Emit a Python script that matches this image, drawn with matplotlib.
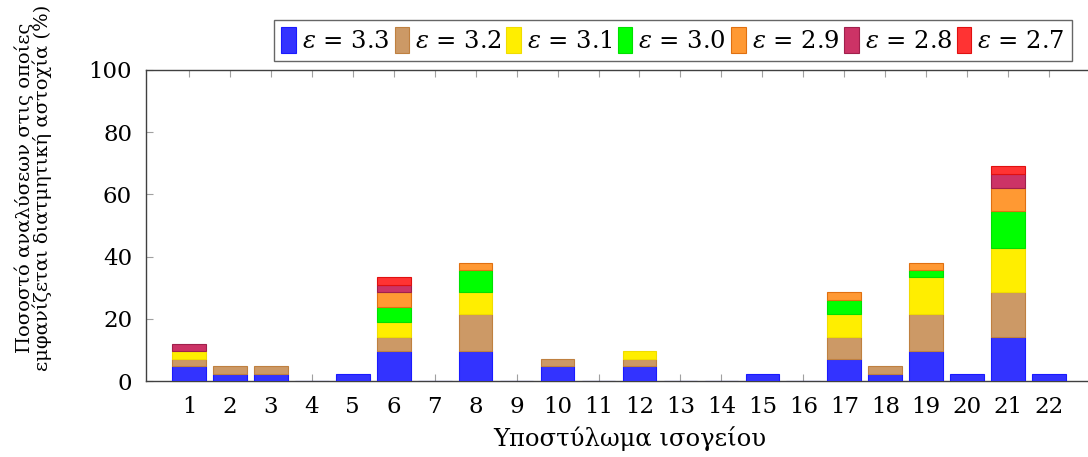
import numpy as np
import matplotlib
matplotlib.use("Agg")
import matplotlib.pyplot as plt

plt.rcParams["font.family"] = ["DejaVu Serif"]
plt.rcParams["mathtext.fontset"] = "dejavuserif"

# Column labels (ground-floor columns)
columns = [str(i) for i in range(1, 23)]

# Share of analyses (%) with shear failure, per permittivity value
eps_labels = [r"$\varepsilon$ = 3.3", r"$\varepsilon$ = 3.2", r"$\varepsilon$ = 3.1",
              r"$\varepsilon$ = 3.0", r"$\varepsilon$ = 2.9", r"$\varepsilon$ = 2.8",
              r"$\varepsilon$ = 2.7"]

u = 100.0 / 42.0  # one analysis out of 42
eps_33 = np.array([2, 1, 1, 0, 1, 4, 0, 4, 0, 2, 0, 2, 0, 0, 1, 0, 3, 1, 4, 1, 6, 1]) * u
eps_32 = np.array([1, 1, 1, 0, 0, 2, 0, 5, 0, 1, 0, 1, 0, 0, 0, 0, 3, 1, 5, 0, 6, 0]) * u
eps_31 = np.array([1, 0, 0, 0, 0, 2, 0, 3, 0, 0, 0, 1, 0, 0, 0, 0, 3, 0, 5, 0, 6, 0]) * u
eps_30 = np.array([0, 0, 0, 0, 0, 2, 0, 3, 0, 0, 0, 0, 0, 0, 0, 0, 2, 0, 1, 0, 5, 0]) * u
eps_29 = np.array([0, 0, 0, 0, 0, 2, 0, 1, 0, 0, 0, 0, 0, 0, 0, 0, 1, 0, 1, 0, 3, 0]) * u
eps_28 = np.array([1, 0, 0, 0, 0, 1, 0, 0, 0, 0, 0, 0, 0, 0, 0, 0, 0, 0, 0, 0, 2, 0]) * u
eps_27 = np.array([0, 0, 0, 0, 0, 1, 0, 0, 0, 0, 0, 0, 0, 0, 0, 0, 0, 0, 0, 0, 1, 0]) * u

series = [eps_33, eps_32, eps_31, eps_30, eps_29, eps_28, eps_27]

fills = ["#3333ff", "#cc9966", "#ffee00", "#00ff00", "#ff9933", "#cc3366", "#ff3333"]
edges = ["#1a1aff", "#bf8040", "#f0dc00", "#00e000", "#e07010", "#a0204c", "#e01010"]

fig = plt.figure(figsize=(10.88, 4.57), dpi=100)
ax = fig.add_axes([146 / 1088, 76 / 457, 946 / 1088, 311 / 457])

x = np.arange(len(columns))
bottom = np.zeros(len(columns))
handles = []
for k, (vals, fc, ec, lab) in enumerate(zip(series, fills, edges, eps_labels)):
    # the first series is drawn everywhere (zero bars show as a flat line);
    # the rest only where they contribute
    keep = np.ones(len(vals), bool) if k == 0 else vals > 0
    b = ax.bar(x[keep], vals[keep], width=0.82, bottom=bottom[keep], color=fc,
               edgecolor=ec, linewidth=0.8, label=lab, zorder=3)
    handles.append(b)
    bottom = bottom + vals

ax.set_xlim(-1.05, 22.05)
ax.set_ylim(0, 100)
ax.set_xticks(x)
ax.set_xticklabels(columns)
ax.set_yticks([0, 20, 40, 60, 80, 100])

for side in ["left", "bottom", "top", "right"]:
    ax.spines[side].set_color("#404040")
    ax.spines[side].set_linewidth(1.0)

ax.tick_params(axis="x", direction="in", length=5, width=0.8, color="#a0a0a0",
               top=True, bottom=True, labelsize=16.5, pad=11)
ax.tick_params(axis="y", direction="in", length=5, width=0.8, color="#a0a0a0",
               left=True, right=False, labelsize=16.5, pad=10)

ax.set_xlabel("Υποστύλωμα ισογείου", fontsize=17.5)
ax.xaxis.set_label_coords((630 - 146) / 946, -0.145)
fig.text(33 / 1088, 1 - 188 / 457,
         "Ποσοστό αναλύσεων στις οποίες\nεμφανίζεται διατμητική αστοχία (%)",
         rotation=90, ha="center", va="center", fontsize=14, linespacing=0.92)

leg = fig.legend(handles=handles, loc="upper right",
                 bbox_to_anchor=(1072 / 1088, 1 - 20 / 457),
                 ncol=7, fontsize=17.5, frameon=True, fancybox=False,
                 edgecolor="#404040", handlelength=0.6, handleheight=1.25,
                 handletextpad=0.25, columnspacing=0.2, borderpad=0.3,
                 borderaxespad=0)
leg.get_frame().set_linewidth(1.0)

fig.savefig("out.png", dpi=100)
